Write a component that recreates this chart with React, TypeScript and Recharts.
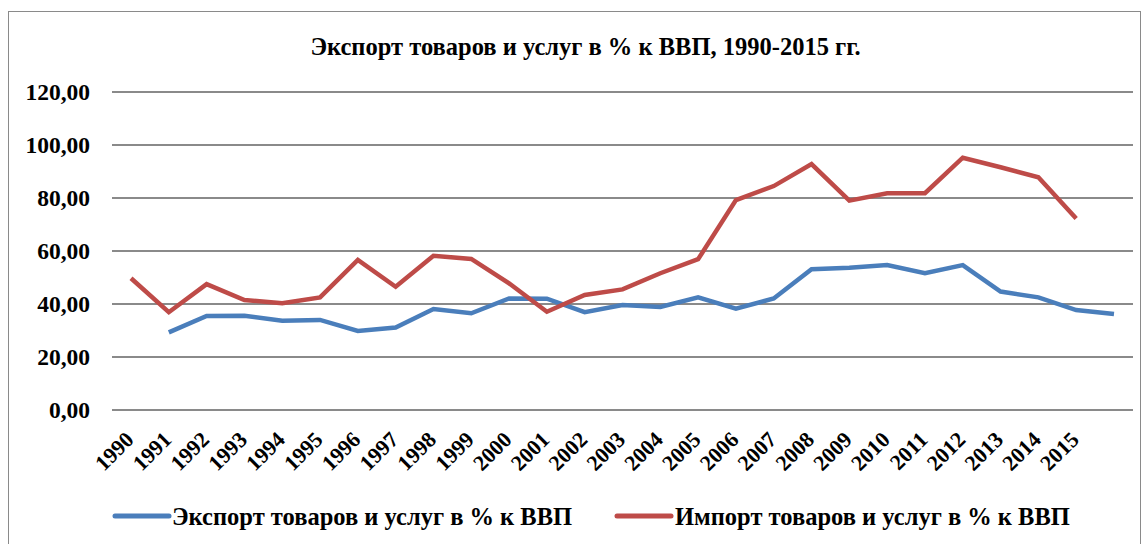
import React from 'react';
import { LineChart, Line, XAxis, YAxis, CartesianGrid } from 'recharts';

const categories = ['1990','1991','1992','1993','1994','1995','1996','1997','1998','1999','2000','2001','2002','2003','2004','2005','2006','2007','2008','2009','2010','2011','2012','2013','2014','2015',''];
const exportValues: (number | null)[] = [null, 29.3, 35.5, 35.6, 33.7, 34.0, 29.8, 31.1, 38.1, 36.5, 42.1, 42.0, 36.9, 39.6, 38.9, 42.5, 38.2, 42.1, 53.1, 53.7, 54.7, 51.6, 54.7, 44.7, 42.5, 37.7, 36.2];
const importValues: (number | null)[] = [49.7, 36.9, 47.5, 41.5, 40.3, 42.5, 56.6, 46.5, 58.2, 57.0, 47.8, 37.1, 43.4, 45.5, 51.6, 56.9, 79.2, 84.5, 92.8, 79.0, 81.8, 81.8, 95.2, 91.6, 87.8, 72.3, null];
const yTicks = [0, 20, 40, 60, 80, 100, 120];

const exportName = 'Экспорт товаров и услуг в % к ВВП';
const importName = 'Импорт товаров и услуг в % к ВВП';
const title = 'Экспорт товаров и услуг в % к ВВП, 1990-2015 гг.';

const BLUE = '#4A7EBB';
const RED = '#BE4B48';
const FONT = 'Liberation Serif';

const data = categories.map((c, i) => ({ year: c, exp: exportValues[i], imp: importValues[i] }));

const XTick = (props: any) => {
  const { x, y, payload } = props;
  return (
    <g transform={`translate(${x + 4},${y + 23})`}>
      <text x={0} y={0} textAnchor="end" transform="rotate(-45)" fontFamily={FONT} fontWeight="bold" fontSize={22} fill="#000">
        {payload.value}
      </text>
    </g>
  );
};

export default function App() {
  return (
    <div style={{ position: 'absolute', left: 0, top: 0, width: 1147, height: 544, background: '#fff', overflow: 'hidden' }}>
      <div style={{ position: 'absolute', left: 8, top: 11, width: 1133, height: 560, border: '1.5px solid #8a8a8a', boxSizing: 'border-box' }} />
      <div style={{ position: 'absolute', left: 0, top: 0 }}>
        <LineChart width={1147} height={544} data={data} margin={{ top: 92, right: 14, bottom: 0, left: 12 }}>
          <CartesianGrid vertical={false} stroke="#8a8a8a" strokeWidth={2} />
          <XAxis dataKey="year" interval={0} tickLine={false} axisLine={false} height={134} padding={{ left: 19, right: 19 }} tick={<XTick />} />
          <YAxis domain={[0, 120]} ticks={yTicks} width={100} tickLine={false} axisLine={false} tickMargin={16}
            tickFormatter={(v: number) => v.toFixed(2).replace('.', ',')}
            tick={{ fontFamily: FONT, fontWeight: 'bold', fontSize: 23.5, fill: '#000' }} />
          <Line type="linear" dataKey="exp" name={exportName} stroke={BLUE} strokeWidth={4.5} dot={false} connectNulls={false} isAnimationActive={false} />
          <Line type="linear" dataKey="imp" name={importName} stroke={RED} strokeWidth={4.5} dot={false} connectNulls={false} isAnimationActive={false} />
        </LineChart>
      </div>
      <svg width={1147} height={544} style={{ position: 'absolute', left: 0, top: 0, pointerEvents: 'none' }}>
        <text x={585.5} y={55} textAnchor="middle" fontFamily={FONT} fontWeight="bold" fontSize={24.5} fill="#000">{title}</text>
        <line x1={115} y1={516} x2={169} y2={516} stroke={BLUE} strokeWidth={5} strokeLinecap="round" />
        <text x={172} y={525} fontFamily={FONT} fontWeight="bold" fontSize={24.5} fill="#000">{exportName}</text>
        <line x1={617} y1={516} x2={671} y2={516} stroke={RED} strokeWidth={5} strokeLinecap="round" />
        <text x={675} y={525} fontFamily={FONT} fontWeight="bold" fontSize={24.5} fill="#000">{importName}</text>
      </svg>
    </div>
  );
}
